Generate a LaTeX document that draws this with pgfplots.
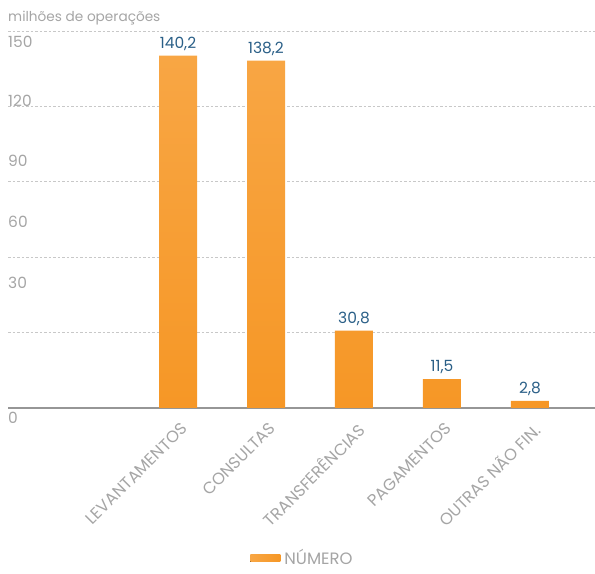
\documentclass[border=0pt]{standalone}
\usepackage{fontspec}
\setmainfont{Poppins}
\usepackage{pgfplots}
\pgfplotsset{compat=1.18}
\definecolor{txtgray}{RGB}{165,165,165}
\definecolor{gridgray}{RGB}{200,200,200}
\definecolor{axgray}{RGB}{150,150,150}
\definecolor{valblue}{RGB}{42,95,135}
\definecolor{bartop}{RGB}{248,166,68}
\definecolor{barbot}{RGB}{246,151,38}
\begin{document}
\begin{tikzpicture}[x=1bp,y=1bp]
\useasboundingbox (0,0) rectangle (595,574);
\begin{axis}[
  at={(8bp,166bp)}, anchor=south west,
  scale only axis, width=587bp, height=377bp,
  xmin=-0.932, xmax=5.739, ymin=0, ymax=150,
  clip=false,
  axis x line*=bottom, axis y line*=left,
  y axis line style={draw=none},
  x axis line style={draw=axgray, line width=1.6bp, -},
  major tick length=0pt,
  ytick={0,30,60,90,120,150}, yticklabels={},
  ymajorgrids, grid style={gridgray, line width=0.7bp, dash pattern=on 2.5bp off 2bp},
  xtick={1,2,3,4,5},
  xticklabels={LEVANTAMENTOS,CONSULTAS,TRANSFERÊNCIAS,PAGAMENTOS,OUTRAS NÃO FIN.},
  xticklabel style={rotate=45, anchor=north east, font=\fontsize{16.5}{18}\selectfont, text=txtgray, inner sep=0pt, xshift=-8bp, yshift=-11bp},
  /pgf/number format/assume math mode=true,
  /pgf/number format/use comma, /pgf/number format/fixed, /pgf/number format/precision=1, /pgf/number format/fixed zerofill,
  nodes near coords,
  nodes near coords style={font=\fontsize{15.5}{17}\selectfont, text=valblue, inner sep=0pt, yshift=5bp, anchor=south},
  legend style={at={(0.5,0)}, anchor=center, yshift=-150bp, xshift=1bp, draw=none, font=\fontsize{16.5}{18}\selectfont, text=txtgray},
  legend image code/.code={\fill[left color=bartop, right color=barbot] (0bp,-3.5bp) rectangle (30bp,3.5bp); \path (0bp,0bp) -- (32bp,0bp);},
]
\addplot[ybar, bar width=38bp, draw=none, top color=bartop, bottom color=barbot]
  coordinates {(1,140.2) (2,138.2) (3,30.8) (4,11.5) (5,2.8)};
\addlegendentry{NÚMERO}
\node[anchor=west, inner sep=0pt, text=txtgray, font=\fontsize{15.5}{17}\selectfont] at (axis cs:-0.932,145.6) {150};
\node[anchor=west, inner sep=0pt, text=txtgray, font=\fontsize{15.5}{17}\selectfont] at (axis cs:-0.932,122.2) {120};
\node[anchor=west, inner sep=0pt, text=txtgray, font=\fontsize{15.5}{17}\selectfont] at (axis cs:-0.932,98.3) {90};
\node[anchor=west, inner sep=0pt, text=txtgray, font=\fontsize{15.5}{17}\selectfont] at (axis cs:-0.932,74.0) {60};
\node[anchor=west, inner sep=0pt, text=txtgray, font=\fontsize{15.5}{17}\selectfont] at (axis cs:-0.932,49.7) {30};
\node[anchor=west, inner sep=0pt, text=txtgray, font=\fontsize{15.5}{17}\selectfont] at (axis cs:-0.932,-4.0) {0};
\node[anchor=base west, inner sep=0pt, text=txtgray, font=\fontsize{13.7}{16}\selectfont] at (rel axis cs:0,1) [yshift=9bp] {milhões de operações};
\end{axis}
\end{tikzpicture}
\end{document}
